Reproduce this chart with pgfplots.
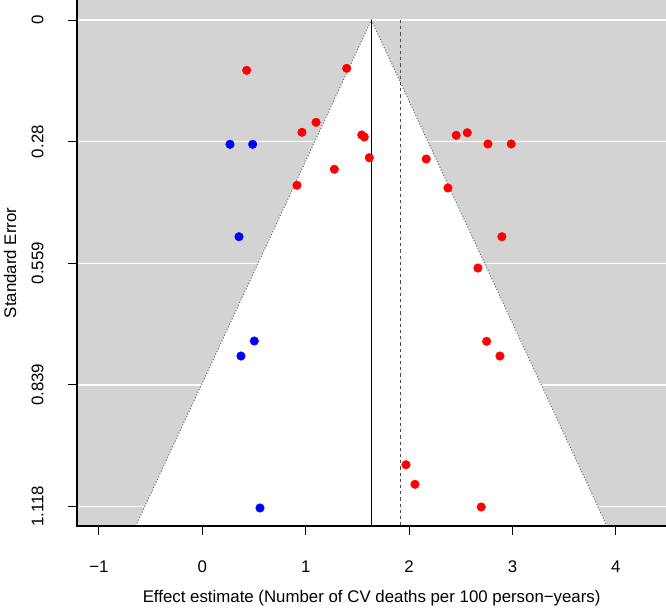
\documentclass[border=0pt]{standalone}
\usepackage{fontspec}
\setmainfont{Liberation Sans}
\usepackage{pgfplots}
\pgfplotsset{compat=1.18}
\definecolor{bg}{HTML}{D3D3D3}
\begin{document}
\begin{tikzpicture}
\begin{axis}[
 scale only axis, width=588.7bp, height=526bp,
 xmin=-1.209, xmax=4.485, ymin=-0.046, ymax=1.1627, y dir=reverse,
 axis x line*=bottom, axis y line*=left,
 axis line style={draw=none},
 axis background/.style={fill=bg},
 tick align=outside, major tick length=9bp,
 every tick/.style={black, line width=1bp},
 xtick={-1,0,1,2,3,4}, xticklabels={−1,0,1,2,3,4},
 ytick={0,0.2795,0.559,0.8385,1.118}, yticklabels={0,0.28,0.559,0.839,1.118},
 ymajorgrids, major grid style={white, line width=1.2bp},
 tick label style={font=\fontsize{16.9}{20}\selectfont},
 label style={font=\fontsize{16.9}{20}\selectfont},
 xticklabel style={anchor=center, yshift=-32bp},
 yticklabel style={xshift=-30.6bp, rotate=90, anchor=center},
 xlabel={Effect estimate (Number of CV deaths per 100 person−years)},
 ylabel={Standard Error},
 xlabel style={at={(axis description cs:0.5,-0.1369)}, anchor=center},
 ylabel style={at={(axis description cs:-0.1143,0.5)}, anchor=center},
 clip=false,
]
\addplot[fill=white, draw=none] coordinates {(-0.644,1.1627) (1.635,0) (3.914,1.1627)} -- cycle;
\addplot[gray!85!black, dash pattern=on 1.1bp off 1.9bp, line width=1bp] coordinates {(-0.644,1.1627) (1.635,0) (3.914,1.1627)};
\addplot[black, line width=1.4bp] coordinates {(1.635,0) (1.635,1.1627)};
\addplot[gray!60!black, dash pattern=on 3.2bp off 3bp, line width=1.4bp] coordinates {(1.917,0) (1.917,1.1627)};
\addplot[only marks, mark=*, mark size=4.3bp, red, mark options={fill=red, draw=red}] coordinates {
(0.429,0.1156) (1.397,0.1110) (1.100,0.2351) (0.964,0.2580) (1.542,0.2642)
(1.567,0.2688) (1.615,0.3164) (1.277,0.3430) (0.916,0.3798) (2.456,0.2649)
(2.563,0.2590) (2.763,0.2849) (2.988,0.2849) (2.166,0.3194) (2.376,0.3860)
(2.898,0.4979) (2.666,0.5699) (2.750,0.7383) (2.879,0.7721) (1.970,1.0219)
(2.057,1.0669) (2.698,1.1190)};
\addplot[only marks, mark=*, mark size=4.3bp, blue, mark options={fill=blue, draw=blue}] coordinates {
(0.268,0.2856) (0.487,0.2856) (0.355,0.4979) (0.503,0.7376) (0.374,0.7721) (0.558,1.1213)};
\addplot[black, line width=1.6bp, line cap=rect] coordinates {(-1.209,-0.046) (-1.209,1.1627) (4.485,1.1627)};
\coordinate (SW) at (axis description cs:0,0);
\coordinate (NE) at (axis description cs:1,1);
\end{axis}
\pgfresetboundingbox
\path ([xshift=-77.3bp,yshift=-82bp]SW) rectangle (NE);
\end{tikzpicture}
\end{document}
